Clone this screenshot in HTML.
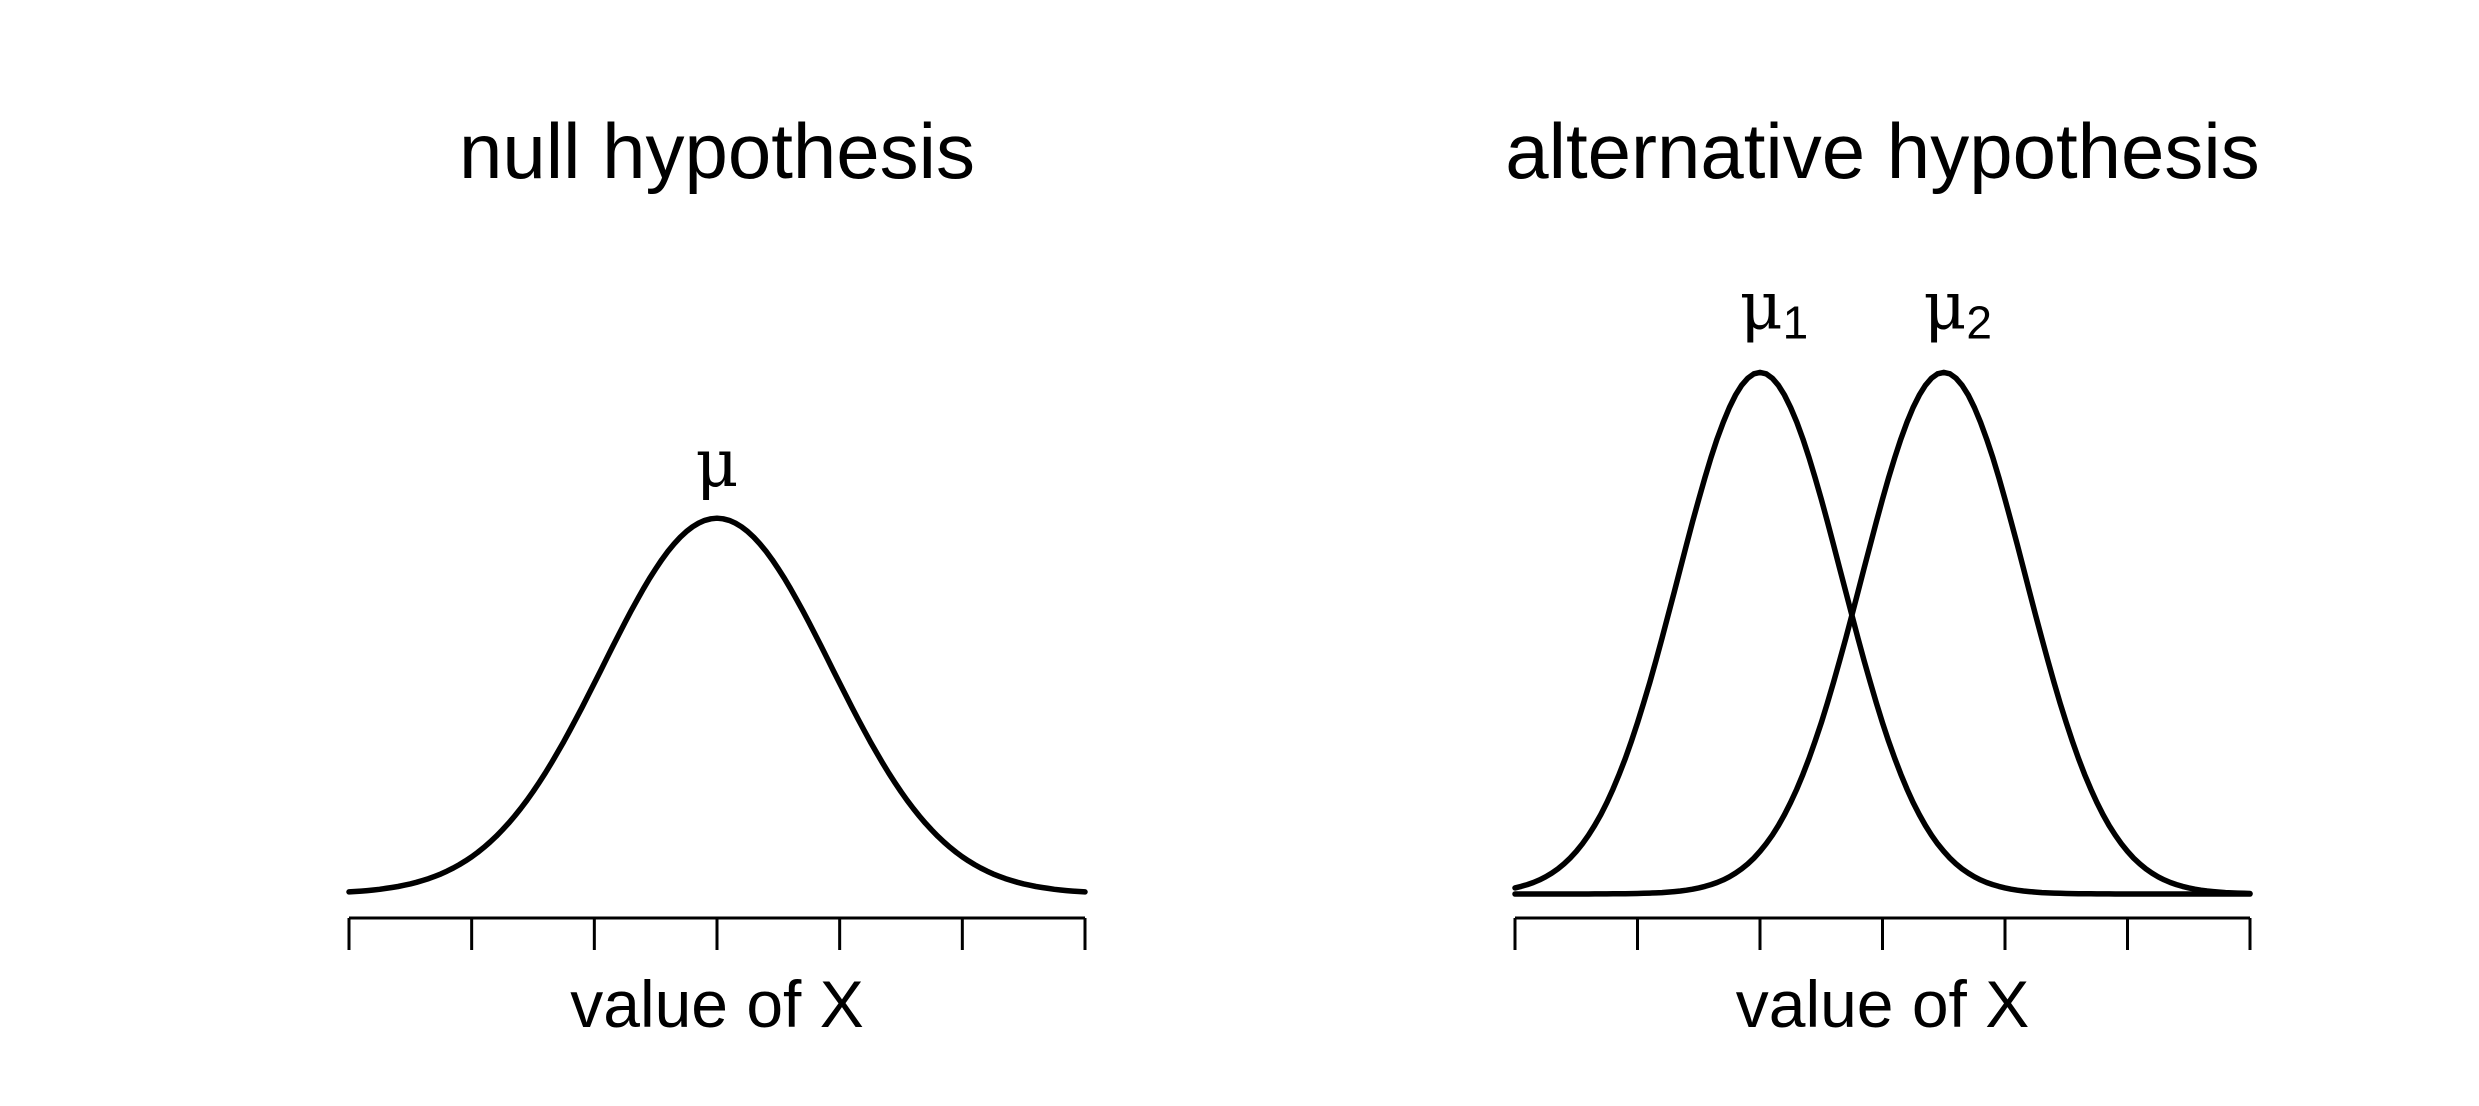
<!DOCTYPE html>
<html><head><meta charset="utf-8"><style>
html,body{margin:0;padding:0;background:#fff;}
svg{display:block;font-family:"Liberation Sans",sans-serif;}
</style></head><body>
<svg id="chart" width="2479" height="1106" viewBox="0 0 2479 1106">
<rect width="2479" height="1106" fill="#fff"/>
<g id="left"></g>
<g id="right"></g>
</svg>
<script>
const ticks = [0,1,2,3,4,5,6];
const nullMeans = [3];
const nullSd = 0.93;
const altMeans = [2, 3.5];
const altSd = 0.67;
const altLabels = ["1","2"];
const NS = "http://www.w3.org/2000/svg";
function mk(tag, attrs, parent){const e=document.createElementNS(NS,tag);for(const k in attrs)e.setAttribute(k,attrs[k]);parent.appendChild(e);return e;}
function dens(x,m,s){return Math.exp(-0.5*((x-m)/s)**2)/(s*Math.sqrt(2*Math.PI));}
function panel(g, x0, x1, title, means, sd, labels){
  const xs = v => x0 + (v-0)/(6-0)*(x1-x0);
  const ys = d => 894 - d*876;
  const t = mk('text',{x:(x0+x1)/2,y:178,'text-anchor':'middle','font-size':78,fill:'#000'},g);
  t.textContent = title;
  
  
  const ax = mk('line',{x1:xs(0),x2:xs(6),y1:918,y2:918,stroke:'#000','stroke-width':3},g);
  
  
  ticks.forEach(v=>{
    const tk = mk('line',{x1:xs(v),x2:xs(v),y1:918,y2:950,stroke:'#000','stroke-width':3},g);
    
    
  });
  const xl = mk('text',{x:(x0+x1)/2,y:1027,'text-anchor':'middle','font-size':66,fill:'#000'},g);
  xl.textContent = 'value of X';
  
  
  means.forEach((m,i)=>{
    let d='';
    for(let k=0;k<=120;k++){const v=k/20;d+=(k?'L':'M')+xs(v).toFixed(1)+' '+ys(dens(v,m,sd)).toFixed(1);}
    const p = mk('path',{d:d,fill:'none',stroke:'#000','stroke-width':5.5,'stroke-linejoin':'round','stroke-linecap':'round'},g);
    
    
    const peak = ys(dens(m,m,sd));
    const lab = mk('text',{x:xs(m)+(labels?14:0),y:peak-(labels?44:32),'text-anchor':'middle','font-size':66,fill:'#000','font-family':'"DejaVu Serif",serif'},g);
    lab.textContent = 'μ';
    if(labels){
      const sub = mk('tspan',{'font-size':46,dy:10,'font-family':'"Liberation Sans",sans-serif'},lab);
      sub.textContent = labels[i];
    }
    
    
  });
}
panel(document.getElementById('left'),349,1085,'null hypothesis',nullMeans,nullSd,null);
panel(document.getElementById('right'),1515,2250,'alternative hypothesis',altMeans,altSd,altLabels);
</script>
</body></html>
